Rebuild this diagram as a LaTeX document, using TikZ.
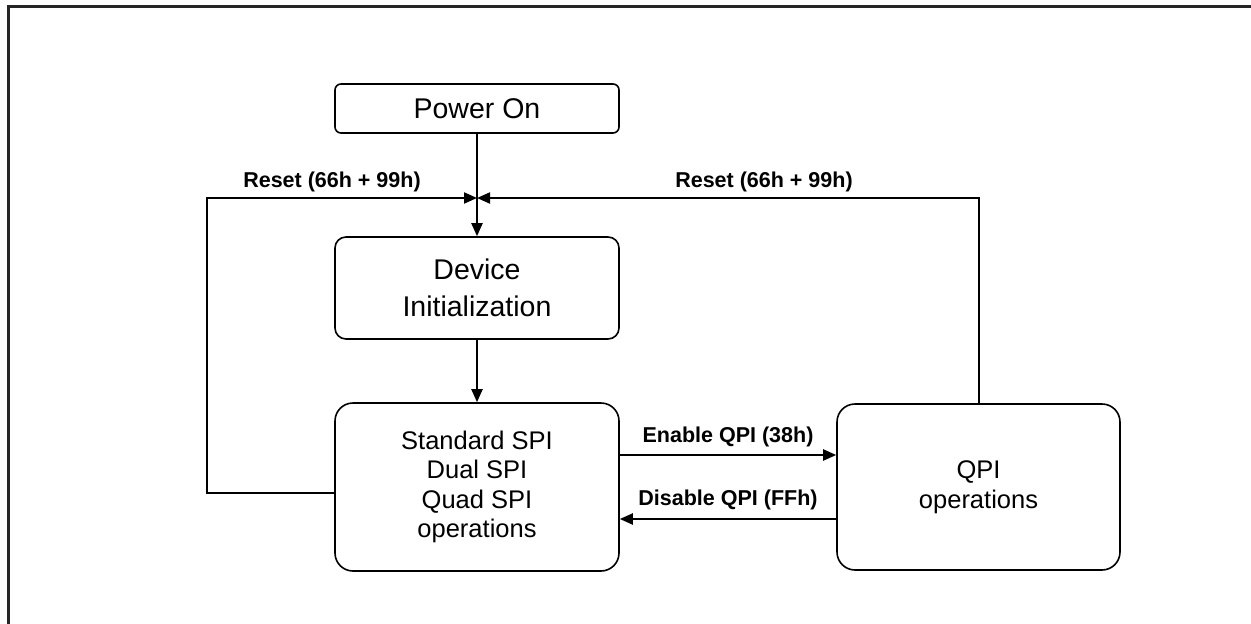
\documentclass[tikz,border=0pt]{standalone}
\usepackage{fontspec}
\setmainfont{Liberation Sans}
\usetikzlibrary{arrows.meta}
\begin{document}
\begin{tikzpicture}[x=1pt,y=-1pt,
  box/.style={draw,line width=1.6pt,rounded corners=#1,align=center,inner sep=0pt},
  bigtxt/.style={font=\fontsize{28.5}{37}\selectfont},
  midtxt/.style={font=\fontsize{25.5}{29.5}\selectfont},
  lbl/.style={font=\fontsize{21.5}{24}\selectfont\bfseries,inner sep=0pt},
  conn/.style={line width=2pt},
  arr/.style={conn,-{Triangle[length=13pt,width=11pt]}}]
\useasboundingbox (0,0) rectangle (1251,624);
\draw[line width=2.5pt,black!85] (8.5,640) -- (8.5,6.5) -- (1260,6.5);
\node[box=6pt,bigtxt,minimum width=284pt,minimum height=49pt] (pwr) at (477,108.5) {Power On};
\node[box=11pt,bigtxt,minimum width=284pt,minimum height=102pt] (dev) at (477,288) {Device\\Initialization};
\node[box=18pt,midtxt,minimum width=284pt,minimum height=168pt] (std) at (477,487) {Standard SPI\\Dual SPI\\Quad SPI\\operations};
\node[box=18pt,midtxt,minimum width=283pt,minimum height=166pt] (qpi) at (978.5,487) {QPI\\operations};
\coordinate (j) at (477,198);
\coordinate (lc) at (207,198);
\coordinate (rc) at (979,198);
\draw[arr] (pwr.south) -- (dev.north);
\draw[arr] (dev.south) -- (std.north);
\draw[arr] ([yshift=-6pt]std.west) -| (lc) -- (j);
\draw[arr] (qpi.north) |- (j);
\draw[arr] ([yshift=32pt]std.east) -- ([yshift=32pt]qpi.west);
\draw[arr] ([yshift=-32pt]qpi.west) -- ([yshift=-32pt]std.east);
\node[lbl] (l1) at (332,182) {Reset (66h + 99h)};
\node[lbl] (l2) at (764,182) {Reset (66h + 99h)};
\node[lbl] (l3) at (728,437) {Enable QPI (38h)};
\node[lbl] (l4) at (728,500) {Disable QPI (FFh)};
\end{tikzpicture}
\end{document}
